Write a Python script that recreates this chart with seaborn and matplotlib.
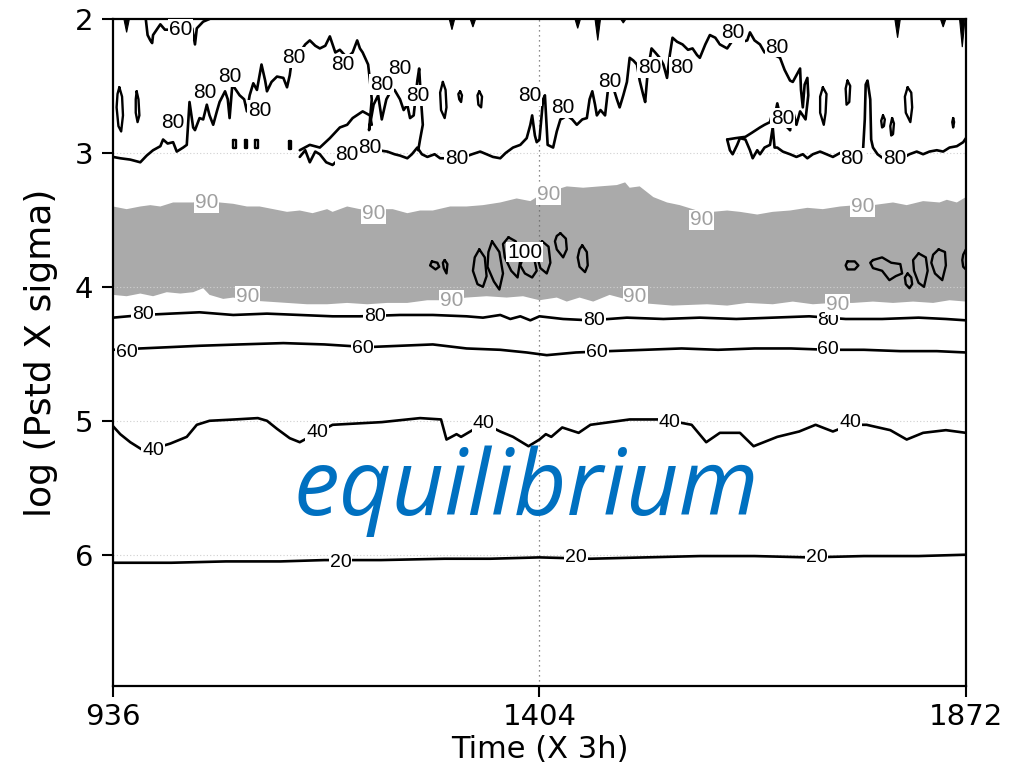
import numpy as np
import matplotlib
matplotlib.use("Agg")
import matplotlib.pyplot as plt
import seaborn as sns

# ---------------- data (time in X 3h, level in log(Pstd X sigma)) ----------------
x_ticks = [936, 1404, 1872]
y_ticks = [2, 3, 4, 5, 6]

# 20 % contour
c20_t = [936, 1000, 1060, 1120, 1168, 1230, 1300, 1350, 1404, 1460, 1520, 1580, 1640, 1700, 1760, 1820, 1872]
c20_y = [6.06, 6.06, 6.05, 6.05, 6.04, 6.04, 6.03, 6.03, 6.02, 6.03, 6.02, 6.01, 6.01, 6.02, 6.01, 6.01, 6.00]

# 40 % contour
c40_t = [936, 944, 955, 969, 980, 999, 1017, 1028, 1042, 1070, 1095, 1105, 1116, 1130, 1141, 1160, 1177,
         1204, 1231, 1273, 1296, 1302, 1313, 1318, 1343, 1361, 1375, 1392, 1404, 1411, 1417, 1429, 1447,
         1460, 1503, 1540, 1571, 1587, 1602, 1624, 1639, 1665, 1689, 1707, 1726, 1745, 1763, 1789, 1807,
         1825, 1850, 1872]
c40_y = [5.04, 5.10, 5.16, 5.22, 5.21, 5.17, 5.12, 5.03, 5.00, 4.99, 4.98, 5.00, 5.06, 5.13, 5.16, 5.09, 5.03,
         5.02, 5.01, 4.98, 4.99, 5.14, 5.10, 5.12, 5.02, 5.08, 5.12, 5.19, 5.14, 5.10, 5.12, 5.05, 5.09,
         5.03, 4.99, 4.99, 5.03, 5.16, 5.09, 5.09, 5.19, 5.12, 5.08, 5.03, 5.08, 5.03, 5.03, 5.07, 5.14,
         5.09, 5.07, 5.09]

# 60 % contour
c60_t = [936, 966, 999, 1031, 1075, 1123, 1168, 1215, 1251, 1287, 1324, 1361, 1390, 1412, 1444, 1480, 1520,
         1560, 1600, 1640, 1680, 1721, 1760, 1800, 1840, 1872]
c60_y = [4.47, 4.46, 4.45, 4.44, 4.43, 4.42, 4.43, 4.45, 4.44, 4.43, 4.46, 4.47, 4.49, 4.51, 4.49, 4.48, 4.47,
         4.46, 4.47, 4.46, 4.46, 4.47, 4.47, 4.48, 4.48, 4.49]

# lower 80 % contour
c80_t = [936, 969, 999, 1031, 1068, 1105, 1141, 1177, 1207, 1251, 1287, 1324, 1342, 1361, 1372, 1383, 1394,
         1404, 1430, 1460, 1500, 1540, 1580, 1620, 1660, 1700, 1740, 1780, 1820, 1850, 1872]
c80_y = [4.23, 4.21, 4.20, 4.19, 4.21, 4.20, 4.21, 4.22, 4.22, 4.21, 4.21, 4.22, 4.23, 4.21, 4.24, 4.22, 4.25,
         4.22, 4.24, 4.25, 4.23, 4.24, 4.23, 4.24, 4.23, 4.22, 4.24, 4.24, 4.23, 4.24, 4.25]

# 90 % shaded band (upper and lower edges)
band_top_t = [936, 951, 966, 977, 988, 1002, 1013, 1024, 1031, 1053, 1068, 1083, 1097, 1112, 1127, 1141,
              1155, 1171, 1177, 1193, 1207, 1243, 1259, 1273, 1287, 1306, 1324, 1342, 1361, 1379, 1394,
              1401, 1415, 1434, 1452, 1470, 1489, 1498, 1503, 1514, 1529, 1544, 1558, 1577, 1594, 1610,
              1624, 1643, 1660, 1679, 1698, 1715, 1734, 1752, 1770, 1792, 1807, 1825, 1843, 1851, 1862, 1872]
band_top_y = [3.40, 3.42, 3.40, 3.39, 3.40, 3.37, 3.37, 3.37, 3.36, 3.37, 3.38, 3.40, 3.40, 3.42, 3.44, 3.43,
              3.45, 3.42, 3.44, 3.40, 3.42, 3.42, 3.45, 3.43, 3.43, 3.40, 3.40, 3.39, 3.37, 3.34, 3.36,
              3.33, 3.29, 3.25, 3.26, 3.25, 3.24, 3.22, 3.26, 3.25, 3.33, 3.37, 3.39, 3.43, 3.44, 3.43,
              3.44, 3.46, 3.44, 3.43, 3.41, 3.42, 3.40, 3.39, 3.39, 3.37, 3.39, 3.36, 3.37, 3.35, 3.37, 3.33]
band_bot_t = [936, 951, 966, 980, 995, 1010, 1024, 1035, 1042, 1057, 1068, 1083, 1105, 1127, 1149, 1171,
              1193, 1215, 1237, 1259, 1281, 1302, 1324, 1346, 1368, 1386, 1404, 1423, 1434, 1448, 1463,
              1481, 1492, 1514, 1550, 1588, 1610, 1632, 1660, 1682, 1704, 1726, 1748, 1770, 1792, 1814,
              1836, 1854, 1872]
band_bot_y = [4.06, 4.07, 4.05, 4.07, 4.04, 4.05, 4.04, 4.01, 4.06, 4.09, 4.08, 4.10, 4.11, 4.12, 4.13, 4.13,
              4.12, 4.13, 4.12, 4.12, 4.10, 4.10, 4.08, 4.07, 4.08, 4.07, 4.10, 4.08, 4.11, 4.08, 4.11,
              4.06, 4.08, 4.12, 4.14, 4.13, 4.14, 4.12, 4.13, 4.11, 4.13, 4.12, 4.12, 4.11, 4.12, 4.11,
              4.12, 4.10, 4.11]

# upper 80 % contour pieces
arcA_t = [936, 944, 955, 966, 973, 980, 988, 991, 996, 1002,
          1006, 1013, 1017, 1020, 1024, 1026, 1031, 1035, 1039, 1042,
          1046, 1050, 1053, 1059, 1062, 1064, 1067, 1071, 1075, 1080,
          1083, 1086, 1090, 1094, 1099, 1103, 1105, 1110, 1116, 1123,
          1127, 1130, 1132, 1137, 1141, 1147, 1152, 1158, 1163, 1169,
          1174, 1180, 1185, 1193, 1199, 1204, 1207, 1210, 1216, 1218,
          1220, 1217, 1222, 1227, 1231, 1236, 1240, 1245, 1251, 1255,
          1259, 1262, 1266, 1270, 1272, 1274, 1276, 1273, 1271]
arcA_y = [3.03, 3.04, 3.05, 3.07, 3.02, 2.98, 2.95, 2.90, 2.93, 2.92,
          2.99, 2.96, 2.94, 2.62, 2.81, 2.83, 2.74, 2.75, 2.64, 2.72,
          2.79, 2.69, 2.62, 2.54, 2.60, 2.74, 2.49, 2.53, 2.57, 2.60,
          2.69, 2.57, 2.48, 2.53, 2.34, 2.46, 2.54, 2.47, 2.43, 2.44,
          2.51, 2.42, 2.32, 2.31, 2.25, 2.19, 2.16, 2.20, 2.22, 2.20,
          2.13, 2.25, 2.23, 2.29, 2.25, 2.16, 2.22, 2.25, 2.34, 2.46,
          2.60, 2.83, 2.64, 2.57, 2.75, 2.60, 2.55, 2.53, 2.60, 2.68,
          2.64, 2.74, 2.72, 2.46, 2.37, 2.60, 2.79, 2.90, 2.98]

lineB_t = [1141, 1152, 1163, 1174, 1185, 1193, 1199, 1210, 1218, 1220]
lineB_y = [2.98, 2.94, 2.96, 2.89, 2.81, 2.79, 2.74, 2.69, 2.72, 2.79]

base1_t = [1141, 1147, 1152, 1158, 1163, 1170, 1177, 1185, 1193, 1202,
           1210, 1216, 1220, 1227, 1237, 1245, 1251, 1259, 1264, 1270,
           1275, 1281, 1289, 1295, 1302, 1308, 1313, 1322, 1330, 1339,
           1346, 1353, 1361, 1367, 1375, 1383, 1390, 1394, 1396, 1399,
           1401, 1404, 1408, 1410, 1413, 1419, 1423, 1427, 1430, 1434,
           1440, 1445, 1451, 1456, 1459, 1462, 1465, 1467, 1471, 1476,
           1479, 1484, 1489, 1492, 1496, 1500, 1503, 1507, 1511, 1514,
           1518, 1520, 1523, 1527, 1531, 1536, 1540, 1544, 1547, 1550,
           1555, 1561, 1567, 1572, 1577, 1580, 1586, 1591, 1597, 1602,
           1610, 1616, 1624, 1627, 1632, 1635, 1640, 1646, 1651, 1657,
           1662, 1668, 1673, 1676, 1679, 1682, 1686, 1690, 1691, 1693,
           1695, 1698, 1699, 1696, 1690, 1686, 1682, 1679]
base1_y = [3.03, 2.98, 3.07, 2.99, 3.01, 3.07, 3.09, 3.04, 3.01, 2.98,
           3.00, 2.98, 2.94, 2.98, 2.99, 3.01, 3.02, 3.04, 3.01, 2.96,
           3.01, 3.03, 3.01, 3.04, 3.04, 3.05, 3.04, 3.03, 3.01, 2.99,
           3.01, 3.03, 3.04, 3.00, 2.96, 2.94, 2.89, 2.79, 2.72, 2.87,
           2.92, 2.90, 2.60, 2.57, 2.94, 2.96, 2.84, 2.75, 2.74, 2.72,
           2.75, 2.79, 2.75, 2.74, 2.60, 2.54, 2.64, 2.72, 2.68, 2.72,
           2.54, 2.49, 2.60, 2.66, 2.57, 2.47, 2.29, 2.31, 2.34, 2.46,
           2.57, 2.62, 2.38, 2.22, 2.25, 2.29, 2.34, 2.44, 2.27, 2.14,
           2.17, 2.19, 2.23, 2.22, 2.27, 2.29, 2.19, 2.12, 2.14, 2.19,
           2.22, 2.16, 2.14, 2.17, 2.16, 2.10, 2.16, 2.19, 2.25, 2.22,
           2.27, 2.29, 2.38, 2.42, 2.46, 2.47, 2.42, 2.37, 2.53, 2.66,
           2.49, 2.44, 2.57, 2.75, 2.69, 2.79, 2.68, 2.83]

lineE_t = [1610, 1619, 1630, 1637, 1646, 1651, 1657, 1660, 1662, 1665, 1668, 1673, 1679]
lineE_y = [2.90, 2.89, 2.88, 2.85, 2.81, 2.79, 2.77, 2.69, 2.73, 2.63, 2.72, 2.79, 2.83]

base2_t = [1610, 1613, 1616, 1621, 1624, 1630, 1635, 1638, 1643, 1646,
           1651, 1657, 1660, 1662, 1665, 1671, 1679, 1686, 1693, 1698,
           1704, 1712, 1719, 1726, 1734, 1741, 1747, 1754, 1759, 1761,
           1762, 1764, 1767, 1768, 1770, 1775, 1781, 1789, 1794, 1800,
           1805, 1810, 1818, 1825, 1832, 1840, 1847, 1854, 1862, 1869,
           1872]
base2_y = [2.90, 2.98, 3.01, 2.94, 2.89, 2.90, 2.98, 3.04, 2.98, 3.01,
           2.96, 2.94, 2.81, 2.96, 2.96, 2.99, 3.01, 3.03, 3.01, 3.04,
           3.01, 2.99, 3.01, 3.03, 3.00, 3.03, 3.04, 3.01, 2.99, 2.75,
           2.49, 2.46, 2.60, 2.90, 2.96, 3.01, 3.04, 3.02, 3.04, 3.01,
           3.03, 3.01, 2.99, 3.01, 2.99, 2.98, 2.99, 2.96, 2.95, 2.92,
           2.89]

# top-left 60 % contour
c60top_t = [972, 974, 977, 979, 980, 984, 988, 993, 1000, 1010, 1020, 1023, 1026, 1028, 1035, 1042]
c60top_y = [2.00, 2.12, 2.16, 2.18, 2.12, 2.08, 2.04, 2.08, 2.08, 2.08, 2.07, 2.07, 2.19, 2.07, 2.02, 2.00]

# small contour drips hanging from the top edge
drip_t = [951, 1308, 1331, 1446, 1468, 1496, 1797, 1847, 1868]
drip_y = [2.10, 2.08, 2.06, 2.07, 2.16, 2.03, 2.14, 2.06, 2.21]

# isolated closed 80 % contours
blob80_t = [
    [943, 946, 947, 945, 942, 940, 941, 943],
    [962, 964, 965, 963, 961, 961, 962],
    [1298, 1301, 1302, 1300, 1296, 1295, 1298],
    [1317, 1319, 1318, 1316, 1315, 1317],
    [1338, 1341, 1340, 1337, 1336, 1338],
    [1715, 1719, 1718, 1716, 1712, 1712, 1715],
    [1742, 1745, 1744, 1741, 1740, 1742],
    [1781, 1783, 1782, 1780, 1779, 1781],
    [1791, 1793, 1792, 1790, 1789, 1791],
    [1808, 1812, 1813, 1811, 1806, 1805, 1808],
    [1858, 1859, 1858, 1857, 1858],
    [1068, 1071, 1071, 1068, 1068],
    [1081, 1083, 1083, 1081, 1081],
    [1092, 1095, 1095, 1092, 1092],
    [1129, 1131, 1131, 1129, 1129],
]
blob80_y = [
    [2.51, 2.58, 2.72, 2.84, 2.80, 2.66, 2.56, 2.51],
    [2.54, 2.60, 2.72, 2.77, 2.70, 2.60, 2.54],
    [2.47, 2.53, 2.66, 2.74, 2.68, 2.55, 2.47],
    [2.54, 2.57, 2.62, 2.60, 2.56, 2.54],
    [2.54, 2.58, 2.66, 2.64, 2.57, 2.54],
    [2.51, 2.56, 2.70, 2.79, 2.70, 2.58, 2.51],
    [2.46, 2.50, 2.62, 2.64, 2.52, 2.46],
    [2.72, 2.75, 2.80, 2.81, 2.76, 2.72],
    [2.74, 2.78, 2.86, 2.87, 2.80, 2.74],
    [2.51, 2.55, 2.66, 2.77, 2.70, 2.58, 2.51],
    [2.74, 2.77, 2.81, 2.77, 2.74],
    [2.90, 2.90, 2.96, 2.96, 2.90],
    [2.90, 2.90, 2.96, 2.96, 2.90],
    [2.90, 2.90, 2.96, 2.96, 2.90],
    [2.91, 2.91, 2.97, 2.97, 2.91],
]

# closed 100 % contours inside the band
blob100_t = [
    [1338, 1344, 1346, 1342, 1336, 1331, 1333, 1338],
    [1352, 1360, 1364, 1360, 1354, 1347, 1348, 1352],
    [1370, 1378, 1383, 1380, 1373, 1366, 1364, 1370],
    [1390, 1398, 1401, 1396, 1388, 1383, 1386, 1390],
    [1407, 1414, 1416, 1412, 1405, 1401, 1403, 1407],
    [1427, 1433, 1434, 1430, 1423, 1421, 1423, 1427],
    [1451, 1456, 1457, 1454, 1448, 1446, 1448, 1451],
    [1286, 1292, 1294, 1290, 1284, 1286],
    [1300, 1303, 1302, 1299, 1298, 1300],
    [1742, 1750, 1754, 1750, 1742, 1740, 1742],
    [1770, 1780, 1790, 1800, 1802, 1795, 1788, 1780, 1770, 1767, 1770],
    [1808, 1812, 1813, 1810, 1806, 1805, 1808],
    [1820, 1828, 1830, 1826, 1820, 1815, 1814, 1820],
    [1842, 1849, 1850, 1846, 1838, 1834, 1836, 1842],
    [1872, 1869, 1868, 1869, 1872],
]
blob100_y = [
    [3.72, 3.78, 3.92, 4.00, 3.98, 3.88, 3.78, 3.72],
    [3.66, 3.74, 3.90, 4.02, 3.96, 3.85, 3.74, 3.66],
    [3.63, 3.66, 3.80, 3.93, 3.88, 3.78, 3.68, 3.63],
    [3.75, 3.78, 3.88, 3.93, 3.90, 3.84, 3.78, 3.75],
    [3.66, 3.70, 3.82, 3.90, 3.86, 3.76, 3.69, 3.66],
    [3.60, 3.64, 3.72, 3.78, 3.72, 3.66, 3.62, 3.60],
    [3.69, 3.74, 3.84, 3.89, 3.85, 3.78, 3.72, 3.69],
    [3.81, 3.82, 3.85, 3.87, 3.84, 3.81],
    [3.80, 3.83, 3.90, 3.86, 3.82, 3.80],
    [3.81, 3.81, 3.84, 3.87, 3.87, 3.84, 3.81],
    [3.80, 3.78, 3.82, 3.83, 3.90, 3.92, 3.95, 3.88, 3.86, 3.82, 3.80],
    [3.90, 3.93, 3.98, 4.01, 3.98, 3.93, 3.90],
    [3.75, 3.78, 3.88, 4.00, 3.97, 3.88, 3.80, 3.75],
    [3.72, 3.74, 3.84, 3.95, 3.90, 3.82, 3.76, 3.72],
    [3.72, 3.76, 3.80, 3.85, 3.87],
]

# contour label positions
lab20_t = [1186, 1444, 1708]
lab20_y = [6.06, 6.02, 6.02]
lab40_t = [980, 1160, 1343, 1547, 1745]
lab40_y = [5.22, 5.09, 5.02, 5.01, 5.01]
lab60_t = [951, 1210, 1467, 1721]
lab60_y = [4.49, 4.46, 4.49, 4.47]
lab80low_t = [969, 1223, 1464, 1721]
lab80low_y = [4.21, 4.22, 4.25, 4.25]
lab80up_t = [1002, 1037, 1064, 1097, 1134, 1188, 1251, 1231, 1270, 1218, 1193, 1313, 1393, 1430, 1481,
             1525, 1560, 1616, 1665, 1671, 1747, 1794]
lab80up_y = [2.77, 2.55, 2.43, 2.68, 2.29, 2.34, 2.37, 2.49, 2.57, 2.96, 3.01, 3.04, 2.57, 2.66, 2.47,
             2.36, 2.36, 2.10, 2.21, 2.74, 3.04, 3.04]
lab90_t = [1039, 1222, 1084, 1308, 1414, 1582, 1759, 1509, 1731]
lab90_y = [3.37, 3.45, 4.07, 4.10, 3.31, 3.50, 3.40, 4.07, 4.13]
lab100_t = [1388]
lab100_y = [3.74]
lab60top_t = [1010]
lab60top_y = [2.08]

# ---------------- drawing ----------------
sns.set_theme(style="ticks")
plt.rcParams['font.family'] = ['DejaVu Sans']

fig = plt.figure(figsize=(10.14, 7.68), dpi=100)
ax = fig.add_axes([0.1114, 0.1068, 0.8412, 0.8685])

LW = 1.9
BAND = '#aaaaaa'

# shaded 90 % band
ax.fill(list(band_top_t) + list(band_bot_t[::-1]),
        list(band_top_y) + list(band_bot_y[::-1]),
        color=BAND, lw=0, zorder=1)

# faint grid
for yv in [3, 4, 5, 6]:
    ax.axhline(yv, color='#d0d0d0', lw=0.8, ls=(0, (1, 2)), zorder=1.5)
ax.axvline(1404, color='#666666', lw=0.9, ls=(0, (1, 3)), zorder=1.5)


def cline(t, y):
    sns.lineplot(x=t, y=y, sort=False, estimator=None, color='black',
                 linewidth=LW, ax=ax, zorder=3)


for t, y in [(c20_t, c20_y), (c40_t, c40_y), (c60_t, c60_y), (c80_t, c80_y),
             (arcA_t, arcA_y), (lineB_t, lineB_y), (base1_t, base1_y),
             (lineE_t, lineE_y), (base2_t, base2_y), (c60top_t, c60top_y)]:
    cline(t, y)

for t, y in zip(blob80_t, blob80_y):
    ax.plot(t, y, color='black', lw=1.7, zorder=3)
for t, y in zip(blob100_t, blob100_y):
    ax.plot(t, y, color='black', lw=1.7, zorder=3)

for t, d in zip(drip_t, drip_y):
    ax.fill([t - 3, t, t + 3], [2.0, d, 2.0], color='black', lw=0.8, zorder=3)

LFONT = 'Liberation Sans'


def labels(ts, ys, txt, color='black', size=14):
    for t, y in zip(ts, ys):
        ax.text(t, y, txt, ha='center', va='center', fontsize=size, family=LFONT,
                color=color, zorder=5,
                bbox=dict(facecolor='white', edgecolor='none', pad=0.6))


labels(lab20_t, lab20_y, '20')
labels(lab40_t, lab40_y, '40')
labels(lab60_t, lab60_y, '60')
labels(lab80low_t, lab80low_y, '80')
labels(lab80up_t, lab80up_y, '80', size=15)
labels(lab60top_t, lab60top_y, '60', size=15)
labels(lab90_t, lab90_y, '90', color='#a0a0a0', size=15)
labels(lab100_t, lab100_y, '100', size=15)

# annotation
ax.text(1390, 5.70, 'equilibrium', ha='center', va='baseline', fontsize=66,
        family=['Open Sans', 'DejaVu Sans'], style='italic', color='#0070C0', zorder=6)

# axes formatting
ax.set_xlim(936, 1872)
ax.set_ylim(6.98, 2)
ax.set_xticks(x_ticks)
ax.set_xticklabels([str(v) for v in x_ticks])
ax.set_yticks(y_ticks)
ax.set_yticklabels([str(v) for v in y_ticks])
ax.tick_params(axis='both', direction='out', length=8, width=1.5, labelsize=21,
               colors='black', bottom=True, left=True, top=False, right=False)
ax.tick_params(axis='x', pad=4)
ax.tick_params(axis='y', pad=6)
for sp in ax.spines.values():
    sp.set_visible(True)
    sp.set_color('black')
    sp.set_linewidth(1.6)

ax.set_xlabel('Time (X 3h)', fontsize=22, color='black')
ax.xaxis.set_label_coords(0.5, -0.074)
ax.xaxis.label.set_va('top')
ax.set_ylabel('log (Pstd X sigma)', fontsize=26, color='black')
ax.yaxis.set_label_coords(-0.064, 0.5)

fig.savefig('out.png', dpi=100)
